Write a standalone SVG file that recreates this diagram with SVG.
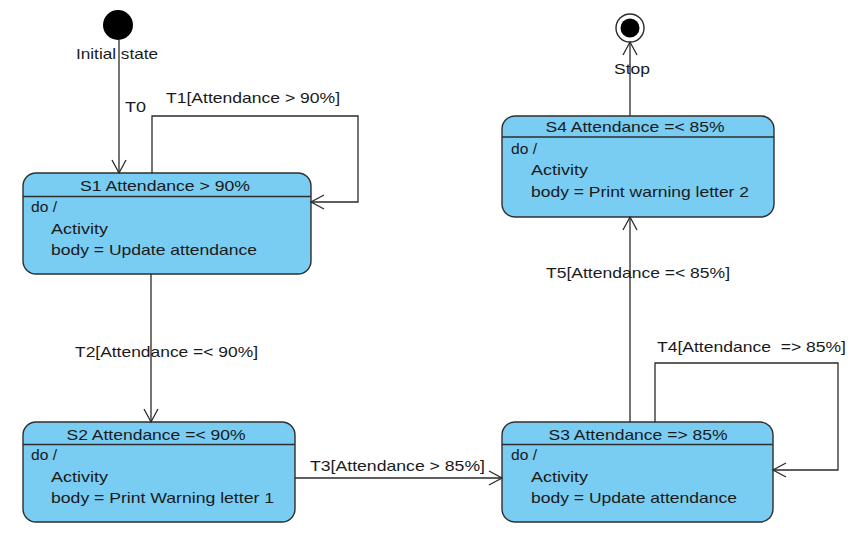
<svg xmlns="http://www.w3.org/2000/svg" width="860" height="546" viewBox="0 0 860 546">
<style>
  .st { fill: #79cdf3; stroke: #2e2e2e; stroke-width: 1.4; }
  .sep { stroke: #2e2e2e; stroke-width: 1.4; }
  text { font-family: "Liberation Sans", Arial, sans-serif; font-size: 14.5px; fill: #1a1a1a; }
  .c { text-anchor: middle; }
  .ln { fill: none; stroke: #2a2a2a; stroke-width: 1.3; }
</style>
<defs>
  <marker id="open" markerWidth="16" markerHeight="16" refX="14" refY="8" orient="auto" markerUnits="userSpaceOnUse">
    <path d="M1,1 L14,8 L1,15" fill="none" stroke="#2a2a2a" stroke-width="1.3"/>
  </marker>
</defs>
<rect width="860" height="546" fill="#ffffff"/>

<g id="initial">
  <circle cx="118" cy="25" r="15" fill="#000"/>
  <text x="117" y="59" class="c" textLength="82" lengthAdjust="spacingAndGlyphs">Initial state</text>
</g>

<g id="final">
  <circle cx="630" cy="28" r="14" fill="#fff" stroke="#2a2a2a" stroke-width="1.4"/>
  <circle cx="630" cy="28" r="9.5" fill="#000"/>
  <text x="632" y="74" class="c" textLength="36" lengthAdjust="spacingAndGlyphs">Stop</text>
</g>

<g id="S1">
  <rect class="st" x="23" y="173" width="288" height="101" rx="13"/>
  <line class="sep" x1="23" y1="196.5" x2="311" y2="196.5"/>
  <text x="165" y="191" class="c" textLength="170" lengthAdjust="spacingAndGlyphs">S1 Attendance &gt; 90%</text>
  <text x="31" y="212" textLength="26" lengthAdjust="spacingAndGlyphs">do /</text>
  <text x="51" y="233.5" textLength="57" lengthAdjust="spacingAndGlyphs">Activity</text>
  <text x="51" y="254.5" textLength="206" lengthAdjust="spacingAndGlyphs">body = Update attendance</text>
</g>

<g id="S2">
  <rect class="st" x="23" y="422" width="272" height="100" rx="13"/>
  <line class="sep" x1="23" y1="444.5" x2="295" y2="444.5"/>
  <text x="156" y="439.5" class="c" textLength="179" lengthAdjust="spacingAndGlyphs">S2 Attendance =&lt; 90%</text>
  <text x="31" y="460" textLength="26" lengthAdjust="spacingAndGlyphs">do /</text>
  <text x="51" y="481.5" textLength="57" lengthAdjust="spacingAndGlyphs">Activity</text>
  <text x="51" y="502.5" textLength="223" lengthAdjust="spacingAndGlyphs">body = Print Warning letter 1</text>
</g>

<g id="S3">
  <rect class="st" x="502" y="422" width="271" height="100" rx="13"/>
  <line class="sep" x1="502" y1="444.5" x2="773" y2="444.5"/>
  <text x="638" y="439.5" class="c" textLength="179" lengthAdjust="spacingAndGlyphs">S3 Attendance =&gt; 85%</text>
  <text x="511" y="460" textLength="26" lengthAdjust="spacingAndGlyphs">do /</text>
  <text x="531" y="481.5" textLength="57" lengthAdjust="spacingAndGlyphs">Activity</text>
  <text x="531" y="502.5" textLength="206" lengthAdjust="spacingAndGlyphs">body = Update attendance</text>
</g>

<g id="S4">
  <rect class="st" x="502" y="116" width="272" height="101" rx="13"/>
  <line class="sep" x1="502" y1="137" x2="774" y2="137"/>
  <text x="635" y="132" class="c" textLength="179" lengthAdjust="spacingAndGlyphs">S4 Attendance =&lt; 85%</text>
  <text x="511" y="153.5" textLength="26" lengthAdjust="spacingAndGlyphs">do /</text>
  <text x="531" y="175" textLength="57" lengthAdjust="spacingAndGlyphs">Activity</text>
  <text x="531" y="196.5" textLength="218" lengthAdjust="spacingAndGlyphs">body = Print warning letter 2</text>
</g>

<g id="connectors">
  <line class="ln" x1="119" y1="40" x2="119" y2="173" marker-end="url(#open)"/>
  <polyline class="ln" points="152,173 152,116 358,116 358,202 311,202" marker-end="url(#open)"/>
  <line class="ln" x1="151" y1="274" x2="151" y2="422" marker-end="url(#open)"/>
  <line class="ln" x1="295" y1="478" x2="502" y2="478" marker-end="url(#open)"/>
  <polyline class="ln" points="655,422 655,363 838,363 838,470 773,470" marker-end="url(#open)"/>
  <line class="ln" x1="630" y1="422" x2="630" y2="217" marker-end="url(#open)"/>
  <line class="ln" x1="630" y1="116" x2="630" y2="42" marker-end="url(#open)"/>
  <text x="125" y="112" textLength="21" lengthAdjust="spacingAndGlyphs">T0</text>
  <text x="166" y="103" textLength="174" lengthAdjust="spacingAndGlyphs">T1[Attendance &gt; 90%]</text>
  <text x="75" y="357" textLength="183" lengthAdjust="spacingAndGlyphs">T2[Attendance =&lt; 90%]</text>
  <text x="310" y="471" textLength="175" lengthAdjust="spacingAndGlyphs">T3[Attendance &gt; 85%]</text>
  <text x="657" y="352" textLength="189" lengthAdjust="spacingAndGlyphs" style="white-space:pre">T4[Attendance  =&gt; 85%]</text>
  <text x="546" y="278" textLength="184" lengthAdjust="spacingAndGlyphs">T5[Attendance =&lt; 85%]</text>
</g>
</svg>
